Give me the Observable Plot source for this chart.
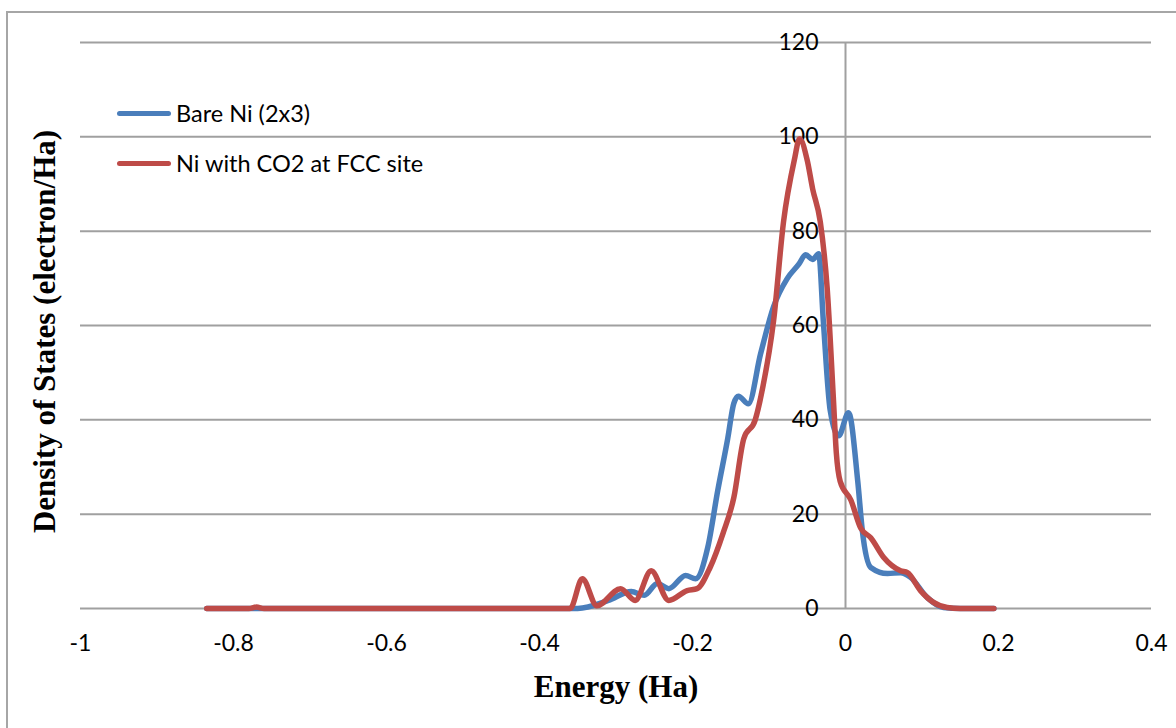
<!DOCTYPE html>
<html><head><meta charset="utf-8">
<script src="https://cdn.jsdelivr.net/npm/d3@7"></script>
<script src="https://cdn.jsdelivr.net/npm/@observablehq/plot@0.6"></script>
<style>
body{margin:0;background:#fff;}
#wrap{position:relative;width:1176px;height:728px;overflow:hidden;background:#fff;}
#frame{position:absolute;left:6px;top:11px;width:1400px;height:1000px;border-left:2px solid #a6a6a6;border-top:2px solid #a6a6a6;pointer-events:none;}
#legend{position:absolute;left:117px;top:88px;font-family:Lato,"Open Sans",sans-serif;font-size:23.5px;color:#000;}
#legend .row{display:flex;align-items:center;height:50px;}
#legend .sw{width:54px;height:5px;border-radius:3px;margin-right:5px;}
</style>
</head><body>
<div id="wrap"><div id="frame"></div><div id="legend"></div></div>
<script>
const seriesNames = ["Bare Ni (2x3)", "Ni with CO2 at FCC site"];
const seriesColors = ["#4a7ebb", "#be4b48"];
const xTicks = [-1, -0.8, -0.6, -0.4, -0.2, 0, 0.2, 0.4];
const yTicks = [0, 20, 40, 60, 80, 100, 120];

const energyBare = [-0.835, -0.6, -0.4, -0.35, -0.31, -0.28, -0.263, -0.246, -0.231, -0.209, -0.196, -0.180, -0.167, -0.154, -0.146, -0.140, -0.127, -0.111, -0.094, -0.076, -0.061, -0.052, -0.043, -0.035, -0.029, -0.020, -0.009, 0.004, 0.016, 0.022, 0.033, 0.055, 0.072, 0.085, 0.107, 0.128, 0.15, 0.194];
const dosBare    = [0, 0, 0, 0, 1.7, 3.6, 2.8, 5.3, 4.2, 7, 6.3, 13, 25, 36, 43.5, 45, 43.4, 54, 64, 70, 73, 75, 74, 75.2, 61, 42, 36.6, 41.5, 27, 16.5, 8.7, 7.4, 7.6, 6.6, 2.3, 0.2, 0, 0];

const energyCO2 = [-0.835, -0.78, -0.77, -0.76, -0.6, -0.4, -0.36, -0.344, -0.325, -0.294, -0.275, -0.254, -0.231, -0.207, -0.194, -0.177, -0.160, -0.146, -0.133, -0.118, -0.108, -0.094, -0.081, -0.067, -0.060, -0.050, -0.043, -0.033, -0.024, -0.016, -0.012, -0.007, 0.007, 0.020, 0.033, 0.050, 0.072, 0.081, 0.098, 0.115, 0.133, 0.15, 0.194];
const dosCO2    = [0, 0, 0.3, 0, 0, 0, 0, 6.3, 0.6, 4.2, 1.7, 8, 1.7, 3.8, 4.2, 8.7, 16, 23.5, 36, 40, 47, 61, 82, 95, 99.6, 95, 89, 82, 68, 45, 33, 27, 23, 17, 15, 10.8, 8, 7.6, 3.8, 1.3, 0.2, 0, 0];

const bare = energyBare.map((e, i) => ({e, v: dosBare[i]}));
const co2 = energyCO2.map((e, i) => ({e, v: dosCO2[i]}));

const tickFont = "Lato, 'Open Sans', sans-serif";
const titleFont = "'Liberation Serif', 'DejaVu Serif', serif";

const chart = Plot.plot({
  width: 1176, height: 728,
  marginLeft: 80, marginRight: 25, marginTop: 42, marginBottom: 120,
  style: {background: "transparent", overflow: "visible"},
  x: {domain: [-1, 0.4], axis: null},
  y: {domain: [0, 120], axis: null},
  marks: [
    Plot.ruleY(yTicks, {stroke: "#a0a0a0", strokeWidth: 2}),
    Plot.ruleX([0], {y1: 0, y2: 120, stroke: "#a0a0a0", strokeWidth: 2}),
    Plot.text(xTicks, {x: d => d, y: () => 0, text: d => String(d), dy: 35, fontSize: 23, fontFamily: tickFont, fill: "#000"}),
    Plot.text(yTicks, {x: () => 0, y: d => d, text: d => String(d), dx: -27, textAnchor: "end", fontSize: 23, fontFamily: tickFont, fill: "#000"}),
    Plot.line(bare, {x: "e", y: "v", stroke: seriesColors[0], strokeWidth: 5.5, curve: "monotone-x"}),
    Plot.line(co2, {x: "e", y: "v", stroke: seriesColors[1], strokeWidth: 5.5, curve: "monotone-x"}),
    Plot.text(["Energy (Ha)"], {frameAnchor: "bottom", dy: 88, fontSize: 31, fontWeight: "bold", fontFamily: titleFont, fill: "#000"}),
    Plot.text(["Density of States (electron/Ha)"], {frameAnchor: "left", textAnchor: "middle", dx: -35, dy: 6, rotate: -90, fontSize: 31, fontWeight: "bold", fontFamily: titleFont, fill: "#000"})
  ]
});
const wrap = document.getElementById("wrap");
wrap.insertBefore(chart, wrap.firstChild);
chart.style.position = "absolute"; chart.style.left = "0"; chart.style.top = "0";

const legend = document.getElementById("legend");
seriesNames.forEach((n, i) => {
  const row = document.createElement("div"); row.className = "row";
  const sw = document.createElement("div"); sw.className = "sw"; sw.style.background = seriesColors[i];
  const t = document.createElement("span"); t.textContent = n;
  row.appendChild(sw); row.appendChild(t); legend.appendChild(row);
});
</script>
</body></html>
